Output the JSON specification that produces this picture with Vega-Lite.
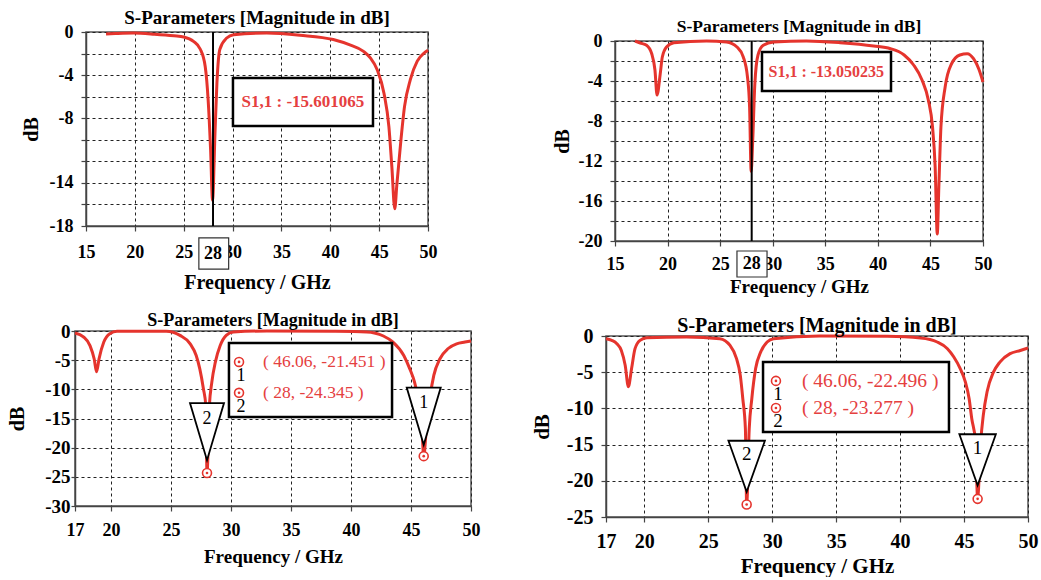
{
"$schema": "https://vega.github.io/schema/vega-lite/v6.json",
"padding": {"left": 0, "top": 8, "right": 0, "bottom": 0},
"background": "white",
"spacing": 14,
"datasets": {
"c1": [{"f":17.05,"db":-0.19},{"f":18,"db":-0.15},{"f":19.85,"db":-0.1},{"f":22,"db":-0.2},{"f":24,"db":-0.35},{"f":25,"db":-0.46},{"f":26,"db":-0.87},{"f":26.7,"db":-1.6},{"f":27.2,"db":-3.2},{"f":27.5,"db":-6.3},{"f":27.75,"db":-10.9},{"f":27.95,"db":-15.6},{"f":28.2,"db":-9.4},{"f":28.4,"db":-4.7},{"f":28.7,"db":-1.6},{"f":29.4,"db":-0.56},{"f":30.1,"db":-0.25},{"f":33.5,"db":-0.1},{"f":36.9,"db":-0.3},{"f":40.3,"db":-0.7},{"f":42,"db":-1.2},{"f":43.4,"db":-1.8},{"f":44.1,"db":-2.4},{"f":44.8,"db":-3.5},{"f":45.5,"db":-5.7},{"f":46,"db":-8.8},{"f":46.3,"db":-12.5},{"f":46.6,"db":-16.4},{"f":46.8,"db":-14.3},{"f":47.2,"db":-10.3},{"f":47.6,"db":-6.9},{"f":48.2,"db":-4.4},{"f":48.9,"db":-2.7},{"f":49.6,"db":-1.95},{"f":50,"db":-1.7}],
"c2": [{"f":16.9,"db":0},{"f":17.4,"db":-0.2},{"f":18,"db":-0.43},{"f":18.5,"db":-1.3},{"f":18.8,"db":-2.9},{"f":19,"db":-5.4},{"f":19.3,"db":-3.3},{"f":19.5,"db":-1.6},{"f":19.9,"db":-0.6},{"f":20.6,"db":-0.17},{"f":23.7,"db":0},{"f":25.6,"db":-0.1},{"f":26.6,"db":-0.6},{"f":27.2,"db":-1.6},{"f":27.6,"db":-3.6},{"f":27.8,"db":-6.6},{"f":27.95,"db":-13.05},{"f":28.1,"db":-9.9},{"f":28.3,"db":-4.3},{"f":28.6,"db":-1.4},{"f":29.1,"db":-0.43},{"f":30.1,"db":-0.1},{"f":33.2,"db":0},{"f":36.4,"db":-0.17},{"f":39.6,"db":-0.5},{"f":41.2,"db":-0.77},{"f":42.5,"db":-1.4},{"f":43.4,"db":-2.4},{"f":44.2,"db":-3.9},{"f":44.8,"db":-5.9},{"f":45.2,"db":-8.6},{"f":45.45,"db":-12.6},{"f":45.65,"db":-19.3},{"f":45.8,"db":-14.6},{"f":46,"db":-8.6},{"f":46.4,"db":-4.6},{"f":47,"db":-2.3},{"f":47.8,"db":-1.4},{"f":48.5,"db":-1.27},{"f":49.1,"db":-1.77},{"f":49.6,"db":-2.8},{"f":50,"db":-4.1}],
"c3": [{"f":17,"db":-0.34},{"f":17.7,"db":-1.0},{"f":18.25,"db":-2.5},{"f":18.6,"db":-4.8},{"f":18.8,"db":-7.0},{"f":19.0,"db":-4.8},{"f":19.4,"db":-1.9},{"f":19.9,"db":-0.46},{"f":20.5,"db":-0.06},{"f":24.6,"db":-0.06},{"f":25.75,"db":-0.75},{"f":26.6,"db":-2.2},{"f":27.1,"db":-4.2},{"f":27.4,"db":-6.5},{"f":27.7,"db":-9.9},{"f":27.9,"db":-12.8},{"f":28,"db":-24.35},{"f":28.2,"db":-12.8},{"f":28.4,"db":-8.8},{"f":28.7,"db":-5.3},{"f":29.1,"db":-2.5},{"f":29.6,"db":-0.75},{"f":30.2,"db":-0.17},{"f":33,"db":0},{"f":38.5,"db":-0.06},{"f":41.3,"db":-0.17},{"f":42.7,"db":-0.86},{"f":43.5,"db":-1.9},{"f":44.4,"db":-4.2},{"f":44.9,"db":-6.5},{"f":45.3,"db":-8.8},{"f":45.6,"db":-11.6},{"f":45.9,"db":-16.2},{"f":46.06,"db":-21.45},{"f":46.3,"db":-16.2},{"f":46.6,"db":-11.1},{"f":46.9,"db":-7.6},{"f":47.4,"db":-4.8},{"f":48.1,"db":-3.0},{"f":48.8,"db":-2.2},{"f":49.5,"db":-1.9},{"f":50,"db":-1.7}],
"c4": [{"f":17,"db":-0.37},{"f":17.45,"db":-0.6},{"f":17.85,"db":-1.06},{"f":18.2,"db":-2.0},{"f":18.5,"db":-4.05},{"f":18.75,"db":-7.0},{"f":19.0,"db":-4.5},{"f":19.27,"db":-1.75},{"f":19.66,"db":-0.6},{"f":20.2,"db":-0.23},{"f":23.3,"db":-0.14},{"f":25.9,"db":-0.37},{"f":26.7,"db":-1.3},{"f":27.2,"db":-3.1},{"f":27.5,"db":-5.4},{"f":27.7,"db":-8.7},{"f":27.9,"db":-12.8},{"f":28,"db":-23.28},{"f":28.2,"db":-12.8},{"f":28.4,"db":-8.7},{"f":28.7,"db":-4.5},{"f":29.1,"db":-2.2},{"f":29.6,"db":-0.83},{"f":30.1,"db":-0.37},{"f":33.7,"db":0},{"f":39,"db":-0.05},{"f":41.6,"db":-0.28},{"f":42.9,"db":-0.83},{"f":43.7,"db":-1.75},{"f":44.2,"db":-2.9},{"f":44.7,"db":-4.5},{"f":45.1,"db":-6.35},{"f":45.4,"db":-8.7},{"f":45.6,"db":-11.4},{"f":45.9,"db":-14.6},{"f":46.06,"db":-22.5},{"f":46.3,"db":-14.6},{"f":46.5,"db":-11},{"f":46.8,"db":-7.7},{"f":47.3,"db":-5.0},{"f":47.8,"db":-3.6},{"f":48.6,"db":-2.44},{"f":49.4,"db":-2.0},{"f":50,"db":-1.66}]
},
"vconcat": [
{"bounds": "flush", "spacing": 0, "hconcat": [
{"width":86,"height":1,"data":{"values":[]},"mark":"point"},
{
 "width": 342, "height": 194,
 "view": {"stroke": "#555", "strokeWidth": 1.5},
 "title": {"text": "S-Parameters [Magnitude in dB]", "fontSize": 19, "offset": -5},
 "encoding": {
  "x": {"field": "f", "type": "quantitative", "scale": {"domain": [15, 50], "nice": false, "zero": false},
   "axis": {"values": [15,20,25,30,35,40,45,50], "labelOverlap": false, "labelSeparation": -200, "labelFontSize": 18, "labelPadding": 12, "titleFontSize": 20, "titlePadding": 11, "title": "Frequency / GHz"}},
  "y": {"field": "db", "type": "quantitative", "scale": {"domain": [-18, 0], "nice": false, "zero": false},
   "axis": {"values": [0,-2,-4,-6,-8,-10,-12,-14,-16,-18], "labelOverlap": false, "labelSeparation": -200, "labelExpr": "indexof([0,-4,-8,-14,-18], datum.value) >= 0 ? '' + datum.value : ''", "labelFontSize": 18, "labelPadding": 8, "titleFontSize": 20, "titlePadding": 8, "title": "dB"}}
 },
 "layer": [
  {"data": {"name": "c1"}, "mark": {"type": "line", "color": "#e5342d", "strokeWidth": 3, "interpolate": "monotone"}},
  {"data": {"values": [{"f": 28, "db": 0, "db2": -18}]}, "mark": {"type": "rule", "color": "black", "strokeWidth": 2}, "encoding": {"y2": {"field": "db2"}}},
  {"data": {"values": [{"f": 30.04, "f2": 44.37, "db": -4.27, "db2": -8.72}]}, "mark": {"type": "rect", "fill": "white", "stroke": "black", "strokeWidth": 2.5},
   "encoding": {"x2": {"field": "f2"}, "y2": {"field": "db2"}}},
  {"data": {"values": [{"f": 37.2, "db": -6.5, "t": "S1,1 : -15.601065"}]}, "mark": {"type": "text", "color": "#e5403f", "fontSize": 17, "fontWeight": "bold"},
   "encoding": {"text": {"field": "t"}}},
  {"data": {"values": [{"f": 26.55, "f2": 29.6, "db": -19.1, "db2": -22.0}]}, "mark": {"type": "rect", "fill": "white", "stroke": "#333", "strokeWidth": 1.2, "clip": false},
   "encoding": {"x2": {"field": "f2"}, "y2": {"field": "db2"}}},
  {"data": {"values": [{"f": 28, "db": -20.6, "t": "28"}]}, "mark": {"type": "text", "color": "black", "fontSize": 18, "fontWeight": "bold"},
   "encoding": {"text": {"field": "t"}}}
 ]
},
{"width":187,"height":1,"data":{"values":[]},"mark":"point"},
{"bounds": "flush", "spacing": 0, "vconcat": [
{"width":1,"height":9,"data":{"values":[]},"mark":"point"},
{
 "width": 368, "height": 200,
 "view": {"stroke": "#555", "strokeWidth": 1.5},
 "title": {"text": "S-Parameters [Magnitude in dB]", "fontSize": 17.5, "offset": -3},
 "encoding": {
  "x": {"field": "f", "type": "quantitative", "scale": {"domain": [15, 50], "nice": false, "zero": false},
   "axis": {"values": [15,20,25,30,35,40,45,50], "labelOverlap": false, "labelSeparation": -200, "labelFontSize": 18, "labelPadding": 9, "titleFontSize": 19, "titlePadding": 4, "title": "Frequency / GHz"}},
  "y": {"field": "db", "type": "quantitative", "scale": {"domain": [-20, 0], "nice": false, "zero": false},
   "axis": {"values": [0,-2,-4,-6,-8,-10,-12,-14,-16,-18,-20], "labelOverlap": false, "labelSeparation": -200, "labelExpr": "datum.value % 4 == 0 ? '' + datum.value : ''", "labelFontSize": 18, "labelPadding": 8, "titleFontSize": 20, "titlePadding": 6, "title": "dB"}}
 },
 "layer": [
  {"data": {"name": "c2"}, "mark": {"type": "line", "color": "#e5342d", "strokeWidth": 3, "interpolate": "monotone"}},
  {"data": {"values": [{"f": 28, "db": 0, "db2": -20}]}, "mark": {"type": "rule", "color": "black", "strokeWidth": 2}, "encoding": {"y2": {"field": "db2"}}},
  {"data": {"values": [{"f": 28.98, "f2": 41.25, "db": -1.1, "db2": -5.0}]}, "mark": {"type": "rect", "fill": "white", "stroke": "black", "strokeWidth": 2.5},
   "encoding": {"x2": {"field": "f2"}, "y2": {"field": "db2"}}},
  {"data": {"values": [{"f": 35.1, "db": -3.05, "t": "S1,1 : -13.050235"}]}, "mark": {"type": "text", "color": "#e5403f", "fontSize": 16, "fontWeight": "bold"},
   "encoding": {"text": {"field": "t"}}},
  {"data": {"values": [{"f": 26.6, "f2": 29.46, "db": -21.0, "db2": -23.6}]}, "mark": {"type": "rect", "fill": "white", "stroke": "#333", "strokeWidth": 1.2, "clip": false},
   "encoding": {"x2": {"field": "f2"}, "y2": {"field": "db2"}}},
  {"data": {"values": [{"f": 28, "db": -22.3, "t": "28"}]}, "mark": {"type": "text", "color": "black", "fontSize": 18, "fontWeight": "bold"},
   "encoding": {"text": {"field": "t"}}}
 ]
}
]}
]},
{"bounds": "flush", "spacing": 0, "hconcat": [
{"width":75,"height":1,"data":{"values":[]},"mark":"point"},
{
 "width": 396, "height": 175,
 "view": {"stroke": "#555", "strokeWidth": 1.5},
 "title": {"text": "S-Parameters [Magnitude in dB]", "fontSize": 18, "offset": -8},
 "encoding": {
  "x": {"field": "f", "type": "quantitative", "scale": {"domain": [17, 50], "nice": false, "zero": false},
   "axis": {"values": [17,20,25,30,35,40,45,50], "labelOverlap": false, "labelSeparation": -200, "labelFontSize": 18, "labelPadding": 10, "titleFontSize": 19, "titlePadding": 8, "title": "Frequency / GHz"}},
  "y": {"field": "db", "type": "quantitative", "scale": {"domain": [-30, 0], "nice": false, "zero": false},
   "axis": {"values": [0,-5,-10,-15,-20,-25,-30], "labelOverlap": false, "labelSeparation": -200, "labelExpr": "'' + datum.value", "labelFontSize": 19, "labelPadding": 1, "tickSize": 4, "titleFontSize": 20, "titlePadding": 17, "title": "dB"}}
 },
 "layer": [
  {"data": {"name": "c3"}, "mark": {"type": "line", "color": "#e5342d", "strokeWidth": 3, "interpolate": "monotone"}},
  {"data": {"values": [{"f": 29.83, "f2": 43.42, "db": -2.06, "db2": -14.74}]}, "mark": {"type": "rect", "fill": "white", "stroke": "black", "strokeWidth": 2.5},
   "encoding": {"x2": {"field": "f2"}, "y2": {"field": "db2"}}},
  {"data": {"values": [{"f": 30.67, "db": -5.3, "n": "1", "t": "( 46.06, -21.451 )"}, {"f": 30.67, "db": -10.6, "n": "2", "t": "( 28, -24.345 )"}]},
   "layer": [
    {"mark": {"type": "point", "shape": "circle", "size": 80, "fill": "white", "stroke": "#e5342d", "strokeWidth": 1.6, "opacity": 1}},
    {"mark": {"type": "point", "shape": "circle", "size": 7, "filled": true, "color": "#e5342d", "opacity": 1}},
    {"mark": {"type": "text", "color": "black", "fontSize": 18, "dx": 2, "dy": 14}, "encoding": {"text": {"field": "n"}}},
    {"mark": {"type": "text", "color": "#e5403f", "fontSize": 17.5, "align": "left", "dx": 24}, "encoding": {"text": {"field": "t"}}}
   ]},
  {"data": {"values": [{"f": 28, "db": -17.25, "n": "2"}, {"f": 46.06, "db": -14.6, "n": "1"}]},
   "layer": [
    {"mark": {"type": "point", "shape": "M-1,-1.68L1,-1.68L0,1.68Z", "size": 1156, "fill": "white", "stroke": "black", "strokeWidth": 1.8, "opacity": 1}},
    {"mark": {"type": "text", "color": "black", "fontSize": 18, "dy": -13}, "encoding": {"text": {"field": "n"}}}
   ]},
  {"data": {"values": [{"f": 28, "db": -24.345}, {"f": 46.06, "db": -21.451}]},
   "layer": [
    {"mark": {"type": "point", "shape": "circle", "size": 80, "fill": "white", "stroke": "#e5342d", "strokeWidth": 1.6, "opacity": 1}},
    {"mark": {"type": "point", "shape": "circle", "size": 7, "filled": true, "color": "#e5342d", "opacity": 1}}
   ]}
 ]
},
{"width":135,"height":1,"data":{"values":[]},"mark":"point"},
{"bounds": "flush", "spacing": 0, "vconcat": [
{"width":1,"height":5,"data":{"values":[]},"mark":"point"},
{
 "width": 422, "height": 181,
 "view": {"stroke": "#555", "strokeWidth": 1.5},
 "title": {"text": "S-Parameters [Magnitude in dB]", "fontSize": 20, "offset": -10},
 "encoding": {
  "x": {"field": "f", "type": "quantitative", "scale": {"domain": [17, 50], "nice": false, "zero": false},
   "axis": {"values": [17,20,25,30,35,40,45,50], "labelOverlap": false, "labelSeparation": -200, "labelFontSize": 20, "labelPadding": 9, "titleFontSize": 21, "titlePadding": 4, "title": "Frequency / GHz"}},
  "y": {"field": "db", "type": "quantitative", "scale": {"domain": [-25, 0], "nice": false, "zero": false},
   "axis": {"values": [0,-5,-10,-15,-20,-25], "labelOverlap": false, "labelSeparation": -200, "labelExpr": "'' + datum.value", "labelFontSize": 20, "labelPadding": 8, "titleFontSize": 21, "titlePadding": 14, "title": "dB"}}
 },
 "layer": [
  {"data": {"name": "c4"}, "mark": {"type": "line", "color": "#e5342d", "strokeWidth": 3, "interpolate": "monotone"}},
  {"data": {"values": [{"f": 29.28, "f2": 43.82, "db": -3.59, "db2": -13.26}]}, "mark": {"type": "rect", "fill": "white", "stroke": "black", "strokeWidth": 2.5},
   "encoding": {"x2": {"field": "f2"}, "y2": {"field": "db2"}}},
  {"data": {"values": [{"f": 30.29, "db": -6.2, "n": "1", "t": "( 46.06, -22.496 )"}, {"f": 30.29, "db": -9.94, "n": "2", "t": "( 28, -23.277 )"}]},
   "layer": [
    {"mark": {"type": "point", "shape": "circle", "size": 80, "fill": "white", "stroke": "#e5342d", "strokeWidth": 1.6, "opacity": 1}},
    {"mark": {"type": "point", "shape": "circle", "size": 7, "filled": true, "color": "#e5342d", "opacity": 1}},
    {"mark": {"type": "text", "color": "black", "fontSize": 19, "dx": 2, "dy": 13}, "encoding": {"text": {"field": "n"}}},
    {"mark": {"type": "text", "color": "#e5403f", "fontSize": 19.5, "align": "left", "dx": 26}, "encoding": {"text": {"field": "t"}}}
   ]},
  {"data": {"values": [{"f": 28, "db": -18.0, "n": "2"}, {"f": 46.06, "db": -17.1, "n": "1"}]},
   "layer": [
    {"mark": {"type": "point", "shape": "M-1,-1.4L1,-1.4L0,1.4Z", "size": 1332, "fill": "white", "stroke": "black", "strokeWidth": 1.8, "opacity": 1}},
    {"mark": {"type": "text", "color": "black", "fontSize": 19, "dy": -12}, "encoding": {"text": {"field": "n"}}}
   ]},
  {"data": {"values": [{"f": 28, "db": -23.277}, {"f": 46.06, "db": -22.496}]},
   "layer": [
    {"mark": {"type": "point", "shape": "circle", "size": 80, "fill": "white", "stroke": "#e5342d", "strokeWidth": 1.6, "opacity": 1}},
    {"mark": {"type": "point", "shape": "circle", "size": 7, "filled": true, "color": "#e5342d", "opacity": 1}}
   ]}
 ]
}
]}
]}
],
"config": {
 "view": {"stroke": null},
 "axis": {"labelFont": "Liberation Serif", "labelFontWeight": "bold", "labelColor": "black", "titleFont": "Liberation Serif", "titleFontWeight": "bold", "titleColor": "black", "domainColor": "#444", "domainWidth": 1.5, "tickColor": "#444", "tickSize": 5, "tickWidth": 1.2, "grid": true, "gridDash": [3, 3], "gridColor": "#222", "gridWidth": 1, "gridOpacity": 1, "labelOverlap": false, "labelFlush": false},
 "title": {"font": "Liberation Serif", "fontWeight": "bold", "color": "black"},
 "text": {"font": "Liberation Serif"}
}
}
